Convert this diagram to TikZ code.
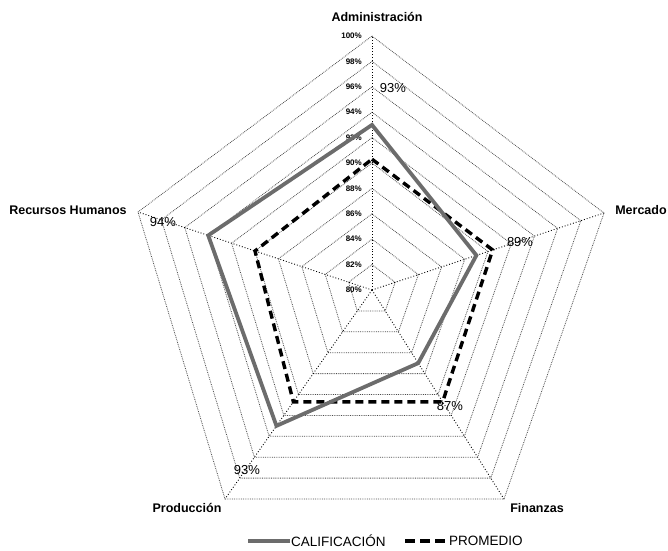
\documentclass[tikz,border=0pt]{standalone}
\usepackage{fontspec}
\setmainfont{Liberation Sans}
\usepackage{tikz}
\usetikzlibrary{calc}
\usetikzlibrary{positioning}

\tikzset{
  ring/.style={gray!60!black, densely dotted, line width=0.8pt},
  spoke/.style={black, dotted, line width=0.9pt},
  califline/.style={gray!85!black, line width=3.8pt, line join=miter},
  promline/.style={black, line width=3.4pt, dash pattern=on 8pt off 5pt},
  axislabel/.style={font=\bfseries\fontsize{12.5}{13}\selectfont},
  levellabel/.style={font=\bfseries\fontsize{8}{8}\selectfont, anchor=east, inner sep=1pt},
  valuelabel/.style={font=\fontsize{13}{13}\selectfont, inner sep=1pt},
  legendlabel/.style={font=\fontsize{13.5}{14}\selectfont, anchor=west, inner sep=1pt},
}

\begin{document}
\begin{tikzpicture}[x=1pt, y=-1pt]
	\useasboundingbox (0,0) rectangle (668,550);
	\coordinate (O) at (372,290);
	\coordinate (Adm) at (372,36);
	\coordinate (Mer) at (604,213);
	\coordinate (Fin) at (504,499);
	\coordinate (Pro) at (225,499);
	\coordinate (Rec) at (138,212);

	% grid
	\foreach \k [evaluate=\k as \f using \k/10] in {1,...,10}
		\draw[ring] ($(O)!\f!(Adm)$) -- ($(O)!\f!(Mer)$) -- ($(O)!\f!(Fin)$) -- ($(O)!\f!(Pro)$) -- ($(O)!\f!(Rec)$) -- cycle;
	\foreach \v in {Adm, Mer, Fin, Pro, Rec}
		\draw[spoke] (O) -- (\v);
	\foreach \k [evaluate=\k as \f using \k/10, evaluate=\k as \p using int(80+2*\k)] in {0,...,10}
		\node[levellabel] (lev\k) at ($(O)!\f!(Adm) + (-9,0)$) {\p\%};

	% series
	\coordinate (c1) at ($(O)!0.65!(Adm)$);
	\coordinate (c2) at ($(O)!0.45!(Mer)$);
	\coordinate (c3) at ($(O)!0.35!(Fin)$);
	\coordinate (c4) at ($(O)!0.65!(Pro)$);
	\coordinate (c5) at ($(O)!0.70!(Rec)$);
	\coordinate (p1) at ($(O)!0.515!(Adm)$);
	\coordinate (p2) at ($(O)!0.52!(Mer)$);
	\coordinate (p3) at ($(O)!0.535!(Fin)$);
	\coordinate (p4) at ($(O)!0.535!(Pro)$);
	\coordinate (p5) at ($(O)!0.50!(Rec)$);
	\draw[promline] (p1) -- (p2) -- (p3) -- (p4) -- (p5) -- cycle;
	\draw[califline] (c1) -- (c2) -- (c3) -- (c4) -- (c5) -- cycle;

	% labels
	\node[axislabel] (lAdm) at (377,17) {Administración};
	\node[axislabel] (lMer) at (641,210) {Mercado};
	\node[axislabel] (lFin) at (537,508) {Finanzas};
	\node[axislabel] (lPro) at (187,508) {Producción};
	\node[axislabel] (lRec) at (68,210) {Recursos Humanos};

	\node[valuelabel] (vAdm) at (393,88) {93\%};
	\node[valuelabel] (vMer) at (520,242) {89\%};
	\node[valuelabel] (vFin) at (450,406) {87\%};
	\node[valuelabel] (vPro) at (247,470) {93\%};
	\node[valuelabel] (vRec) at (163,222) {94\%};

	% legend
	\coordinate (legc) at (248,541);
	\node[legendlabel] (legcal) at (290,541) {CALIFICACIÓN};
	\draw[califline] (legc) -- (legcal.west);
	\coordinate (legp) at (405,541);
	\node[legendlabel] (legprom) at (448,541) {PROMEDIO};
	\draw[promline, dash pattern=on 10pt off 5pt] (legp) -- (legprom.west);
\end{tikzpicture}
\end{document}
